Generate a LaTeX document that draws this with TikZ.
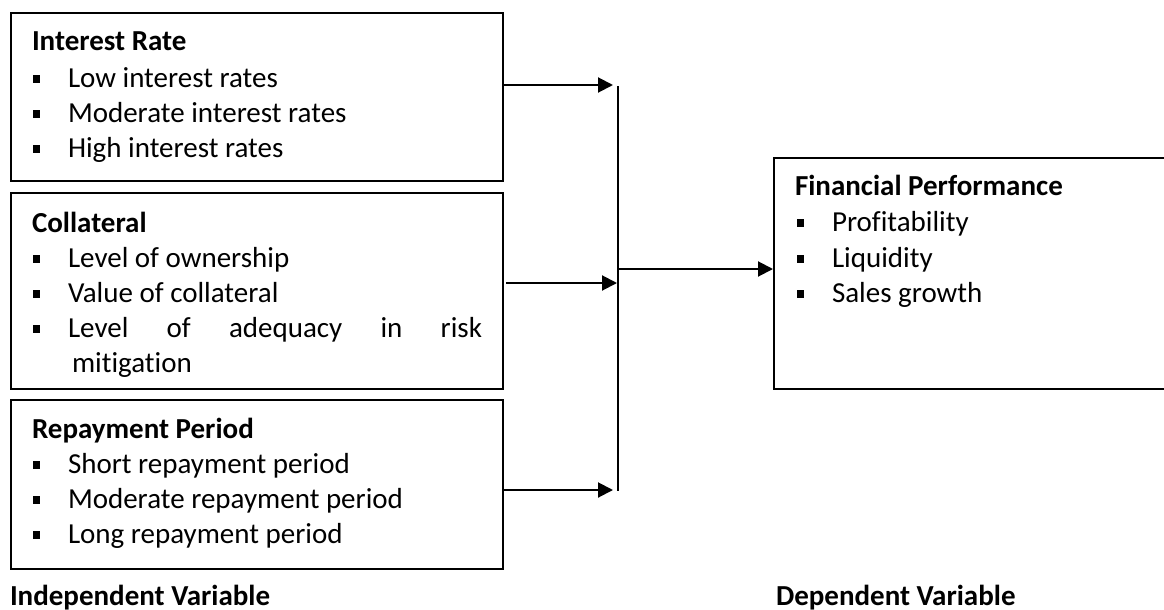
\documentclass[tikz,border=0pt]{standalone}
\usepackage{fontspec}
\setmainfont{Carlito}[Ligatures=NoCommon]
\usetikzlibrary{arrows.meta}
\newcommand{\bsq}{\raisebox{4.5pt}{\rule{7pt}{7.5pt}}}
\newcommand{\itm}[1]{\makebox[35pt][l]{\bsq}#1}
\tikzset{
  box/.style={draw=black, line width=2pt, rectangle, inner sep=0pt, anchor=north west},
  txt/.style={anchor=base west, inner sep=0pt, outer sep=0pt, font=\fontsize{29}{35}\selectfont},
  ttl/.style={txt, font=\fontsize{29}{35}\selectfont\bfseries},
  arr/.style={line width=2pt, -{Triangle[length=15pt,width=15pt]}},
  ln/.style={line width=2pt}
}
\begin{document}
\begin{tikzpicture}[x=1pt,y=-1pt]
\useasboundingbox (0,0) rectangle (1164,610);
\clip (0,0) rectangle (1164,610);
% boxes
\node[box, minimum width=492pt, minimum height=168pt] (b1) at (10,12) {};
\node[box, minimum width=492pt, minimum height=196pt] (b2) at (10,192) {};
\node[box, minimum width=492pt, minimum height=169pt] (b3) at (10,399) {};
\node[box, minimum width=420pt, minimum height=231pt] (b4) at (773,157) {};
% box 1
\node[ttl] (t1) at (32,51) {Interest Rate};
\node[txt] (t1a) at (33,87) {\itm{Low interest rates}};
\node[txt] (t1b) at (33,122) {\itm{Moderate interest rates}};
\node[txt] (t1c) at (33,157) {\itm{High interest rates}};
% box 2
\node[ttl] (t2) at (32,232) {Collateral};
\node[txt] (t2a) at (33,267) {\itm{Level of ownership}};
\node[txt] (t2b) at (33,302) {\itm{Value of collateral}};
\node[txt] (t2c) at (33,337) {\itm{\makebox[414pt][s]{Level\hfill of\hfill adequacy\hfill in\hfill risk}}};
\node[txt] (t2d) at (72,372) {mitigation};
% box 3
\node[ttl] (t3) at (32,438) {Repayment Period};
\node[txt] (t3a) at (33,473) {\itm{Short repayment period}};
\node[txt] (t3b) at (33,508) {\itm{Moderate repayment period}};
\node[txt] (t3c) at (33,543) {\itm{Long repayment period}};
% box 4
\node[ttl] (t4) at (795,195) {Financial Performance};
\node[txt] (t4a) at (797,231) {\itm{Profitability}};
\node[txt] (t4b) at (797,267) {\itm{Liquidity}};
\node[txt] (t4c) at (797,302) {\itm{Sales growth}};
% labels
\node[ttl] (iv) at (10,605) {Independent Variable};
\node[ttl] (dv) at (776,605) {Dependent Variable};
% connectors
\coordinate (a1s) at (502,85);
\coordinate (a1e) at (613,85);
\coordinate (a2s) at (506,283);
\coordinate (a2e) at (617,283);
\coordinate (a3s) at (502,490);
\coordinate (a3e) at (613,490);
\coordinate (vtop) at (618,86);
\coordinate (vbot) at (618,491);
\coordinate (vmid) at (618,269);
\coordinate (b4in) at (773,269);
\draw[arr] (a1s) -- (a1e);
\draw[arr] (a2s) -- (a2e);
\draw[arr] (a3s) -- (a3e);
\draw[ln] (vtop) -- (vbot);
\draw[arr] (vmid) -- (b4in);
\end{tikzpicture}
\end{document}
